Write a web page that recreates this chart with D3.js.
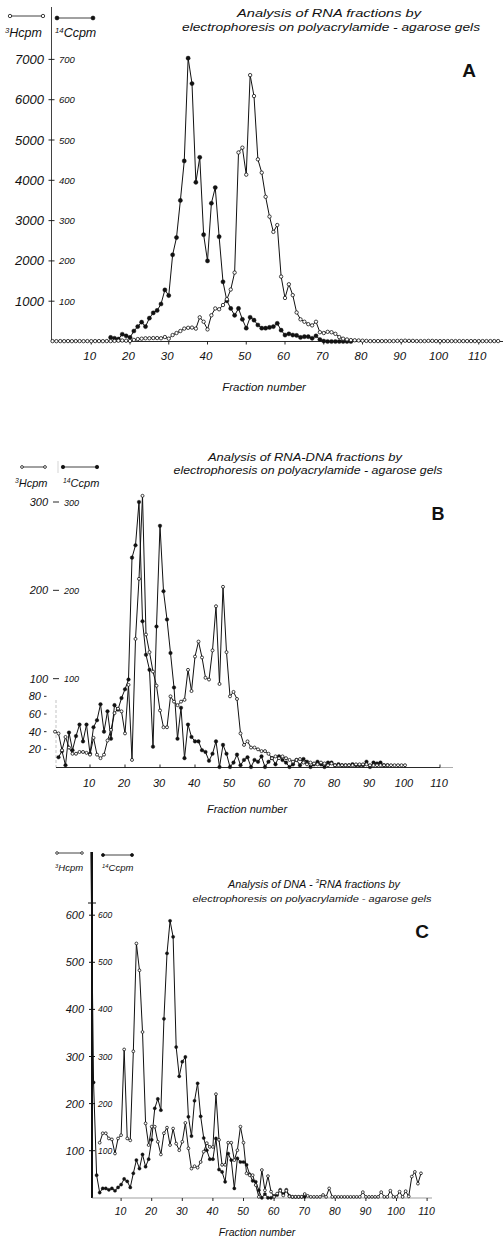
<!DOCTYPE html>
<html>
<head>
<meta charset="utf-8">
<script src="https://cdn.jsdelivr.net/npm/d3@7"></script>
<style>
  body { margin: 0; background: #fff; }
  svg { display: block; }
  text { font-family: "Liberation Sans", Arial, sans-serif; fill: #111; }
</style>
</head>
<body>
<svg id="fig" width="503" height="1238"></svg>
<script>
// ---------- shared ----------
const fractionTicks = [10, 20, 30, 40, 50, 60, 70, 80, 90, 100, 110];

// ---------- Panel A: RNA fractions ----------
const aH3Start = 0;   // 3H cpm, fractions 0..115
const aH3 = [
  10, 8, 10, 8, 10, 8, 10, 10, 8, 10, 8, 10, 10, 8, 10,
  10, 15, 20, 25, 20, 15,
  40, 60, 70, 80, 80, 85, 85, 80, 110, 70,
  160, 210, 260, 320, 340, 345, 320, 600, 490, 300,
  650, 820, 800, 905, 1050, 1290, 1710, 4690, 4810, 4140,
  6610, 6090, 4520, 4190, 3590, 3100, 2720, 2890, 1610, 1080,
  1420, 1150, 720, 550, 490, 430, 400, 490, 230, 210,
  240, 230, 190, 110, 70, 50, 35, 30, 25, 20,
  15, 10, 10, 10, 10, 10, 10, 10, 15, 15,
  20, 15, 15, 10, 10, 10, 15, 15, 10, 10,
  10, 10, 10, 10, 10, 10, 10, 10, 10, 10,
  10, 10, 10, 10, 10
];
const aC14Start = 15; // 14C cpm, fractions 15..77
const aC14 = [
  10, 8, 6, 18, 14, 10,
  26, 37, 48, 37, 58, 71, 77, 93, 128, 114,
  215, 258, 350, 448, 703, 640, 395, 457, 265, 200,
  343, 382, 260, 148, 101, 82, 65, 82, 55, 33,
  60, 53, 41, 33, 33, 35, 37, 45, 28, 16,
  19, 16, 15, 10, 12, 12, 8, 14, 5, 1,
  0, 0, 0, 0, 0, 0, 0
];
const aTicksH3 = [1000, 2000, 3000, 4000, 5000, 6000, 7000];
const aTicksC14 = [100, 200, 300, 400, 500, 600, 700];

// ---------- Panel B: RNA-DNA fractions ----------
const bH3Start = 0;   // fractions 0..100
const bH3 = [
  40, 38, 19, 34, 22, 15, 15, 17, 17, 16, 14,
  33, 14, 10, 14, 30, 42, 61, 66, 63, 38,
  93, 8, 145, 213, 307, 150, 130, 108, 92, 64,
  45, 45, 80, 74, 70, 74, 76, 110, 86, 125,
  142, 124, 101, 99, 132, 182, 94, 204, 130, 80,
  85, 77, 38, 25, 29, 22, 22, 20, 18, 18,
  15, 10, 12, 10, 12, 10, 8, 6, 8, 9,
  5, 3, 5, 4, 3, 5, 4, 2, 4, 2,
  2, 2, 2, 2, 2, 3, 3, 3, 3, 2,
  2, 2, 2, 2, 2, 2, 2, 2, 2, 2
];
const bC14Start = 1;  // fractions 1..95
const bC14 = [
  11, 18, 2, 39, 19, 35, 48, 29, 48, 15,
  45, 53, 71, 40, 63, 32, 70, 65, 78, 88,
  99, 237, 251, 300, 165, 127, 110, 23, 159, 273,
  199, 167, 129, 90, 32, 67, 10, 48, 34, 29,
  29, 19, 17, 7, 15, 29, 0, 25, 15, 0,
  5, 14, 2, 8, 11, 0, 8, 6, 12, 0,
  6, 10, 3, 12, 8, 5, 0, 3, 8, 2,
  9, 6, 0, 3, 6, 3, 0, 5, 5, 2,
  3, 2, 2, 2, 3, 2, 2, 2, 6, 0,
  5, 4, 5, 2, 2
];
const bTicksLeft = [20, 40, 60, 80, 100, 200, 300];
const bTicksRight = [100, 200, 300];

// ---------- Panel C: DNA-RNA fractions ----------
const cH3Start = 3;   // fractions 3..108
const cH3 = [
  117, 137, 137, 126, 124, 94, 126, 133,
  315, 126, 122, 311, 540, 483, 352, 158, 112, 151,
  151, 119, 92, 137, 149, 112, 147, 115, 101, 119,
  159, 105, 62, 67, 64, 76, 98, 116, 108, 108,
  220, 123, 70, 70, 117, 117, 80, 101, 151, 117,
  52, 48, 48, 27, 2, 59, 16, 46, 13, 2,
  9, 15, 5, 15, 3, 2, 2, 2, 2, 8,
  4, 2, 2, 2, 2, 6, 2, 20, 2, 2,
  2, 2, 2, 2, 2, 2, 2, 2, 12, 2,
  2, 2, 2, 2, 12, 2, 2, 15, 2, 2,
  13, 2, 14, 3, 45, 55, 30, 52
];
const cC14Start = 0;  // fractions 0..70 (fraction 0 runs off the top)
const cC14 = [
  800, 245, 48, 11, 20, 20, 17, 20, 15, 22, 28,
  40, 35, 22, 52, 80, 62, 92, 66, 82, 123,
  190, 210, 186, 380, 519, 588, 554, 320, 258, 289,
  299, 172, 131, 206, 243, 173, 127, 101, 82, 82,
  126, 60, 55, 34, 94, 80, 20, 84, 76, 76,
  70, 50, 36, 34, 16, 0, 8, 0, 0, 4,
  6, 17, 8, 17, 4, 2, 2, 2, 2, 2
];
const cTicks = [100, 200, 300, 400, 500, 600];

// ---------- drawing helpers ----------
const svg = d3.select("#fig");
svg.append("rect").attr("width", 503).attr("height", 1238).attr("fill", "#fff");
const INK = "#111";

const toPoints = (start, values) => values.map((v, i) => ({ f: start + i, v }));

function drawCurve(g, pts, x, y) {
  g.append("path").datum(pts)
    .attr("d", d3.line().x(d => x(d.f)).y(d => y(d.v)))
    .attr("fill", "none").attr("stroke", INK).attr("stroke-width", 1)
    .attr("stroke-linejoin", "round");
}
function drawDots(g, pts, x, y, filled, r) {
  g.selectAll(null).data(pts).join("circle")
    .attr("cx", d => x(d.f)).attr("cy", d => y(d.v)).attr("r", r)
    .attr("fill", filled ? INK : "#fff")
    .attr("stroke", INK).attr("stroke-width", filled ? 0.4 : 0.8);
}
function seg(g, x1, y1, x2, y2, w = 0.9, color = INK) {
  return g.append("line").attr("x1", x1).attr("y1", y1).attr("x2", x2).attr("y2", y2)
    .attr("stroke", color).attr("stroke-width", w);
}
function label(g, str, x, y, size, anchor = "start", italic = true) {
  return g.append("text").attr("x", x).attr("y", y).attr("font-size", size)
    .attr("text-anchor", anchor).attr("font-style", italic ? "italic" : "normal").text(str);
}
function fitted(g, str, cx, y, size, width) {
  return g.append("text").attr("x", cx - width / 2).attr("y", y).attr("font-size", size)
    .attr("font-style", "italic").attr("textLength", width).attr("lengthAdjust", "spacingAndGlyphs")
    .text(str);
}
function legendKey(g, x1, x2, y, filled, r) {
  seg(g, x1, y, x2, y, 0.8);
  [x1, x2].forEach(xx => g.append("circle").attr("cx", xx).attr("cy", y).attr("r", r)
    .attr("fill", filled ? INK : "#fff").attr("stroke", INK).attr("stroke-width", 0.8));
}
function isotopeLabel(g, mass, rest, x, y, size) {
  const t = g.append("text").attr("x", x).attr("y", y).attr("font-size", size).attr("font-style", "italic");
  t.append("tspan").attr("font-size", size * 0.62).attr("dy", -size * 0.35).text(mass);
  t.append("tspan").attr("dy", size * 0.35).text(rest);
  return t;
}

// ---------- Panel A ----------
{
  const g = svg.append("g");
  const x = d3.scaleLinear([0, 110], [52.5, 478.75]);
  const yH = d3.scaleLinear([0, 7000], [341.5, 59.4]);
  const yC = d3.scaleLinear([0, 700], [341.5, 59.4]);

  seg(g, 51.5, 7, 51.5, 341.5, 0.8);
  seg(g, 51.5, 341.5, 503, 341.5, 0.9);
  fractionTicks.forEach(t => {
    seg(g, x(t), 341.5, x(t), 344.5, 0.9);
    label(g, String(t), x(t) - 1.5, 360, 11.5, "middle");
  });
  aTicksH3.forEach(t => {
    seg(g, 48.5, yH(t), 54.5, yH(t), 0.9);
    label(g, String(t), 44, yH(t) + 4.5, 13, "end");
  });
  aTicksC14.forEach(t => label(g, String(t), 59, yC(t) + 3.5, 9.5, "start"));

  legendKey(g, 10, 43, 16, false, 1.7);
  legendKey(g, 57, 93, 18, true, 1.9);
  isotopeLabel(g, "3", "Hcpm", 5, 37, 12.5);
  isotopeLabel(g, "14", "Ccpm", 55, 37, 12.5);

  fitted(g, "Analysis of RNA fractions by", 329, 17, 11.5, 184);
  fitted(g, "electrophoresis on polyacrylamide - agarose gels", 331, 31, 11.5, 298);
  g.append("text").attr("x", 469).attr("y", 77).attr("font-size", 19).attr("font-weight", "bold")
    .attr("text-anchor", "middle").text("A");
  label(g, "Fraction number", 264, 391, 11.5, "middle");

  const h3 = toPoints(aH3Start, aH3), c14 = toPoints(aC14Start, aC14);
  drawCurve(g, c14, x, yC);
  drawCurve(g, h3, x, yH);
  drawDots(g, c14, x, yC, true, 2.1);
  drawDots(g, h3, x, yH, false, 1.7);
}

// ---------- Panel B ----------
{
  const g = svg.append("g");
  const x = d3.scaleLinear([0, 110], [55, 440]);
  const yH = d3.scaleLinear([0, 300], [767, 502]);
  const yC = d3.scaleLinear([0, 300], [767, 502]);

  seg(g, 56, 700, 56, 767.5, 0.7, "#aaa").attr("stroke-dasharray", "3,2");
  seg(g, 56, 767.5, 453, 767.5, 0.9);
  seg(g, 440, 767.5, 453, 767.5, 0.9, "#bbb");
  fractionTicks.forEach(t => {
    seg(g, x(t), 764.5, x(t), 767.5, 0.9);
    label(g, String(t), x(t) - 1, 787, 11, "middle");
  });
  bTicksLeft.forEach(t => {
    if (t >= 100) {
      seg(g, 53, yH(t), 59, yH(t), 0.9);
      label(g, String(t), 48, yH(t) + 4, 11, "end");
    } else {
      seg(g, 44, yH(t), 46.5, yH(t), 0.9);
      label(g, String(t), 41, yH(t) + 4, 11, "end");
    }
  });
  bTicksRight.forEach(t => label(g, String(t), 64, yC(t) + 3.5, 9, "start"));

  legendKey(g, 22, 45, 467, false, 1.4);
  legendKey(g, 63, 97, 467, true, 1.7);
  seg(g, 58, 461, 58, 473, 0.6, "#bbb");
  isotopeLabel(g, "3", "Hcpm", 15, 487, 11);
  isotopeLabel(g, "14", "Ccpm", 63, 487, 11);

  fitted(g, "Analysis of RNA-DNA fractions by", 305, 461, 10.5, 194);
  fitted(g, "electrophoresis on polyacrylamide - agarose gels", 308, 474, 10.5, 269);
  g.append("text").attr("x", 438).attr("y", 520).attr("font-size", 18).attr("font-weight", "bold")
    .attr("text-anchor", "middle").text("B");
  label(g, "Fraction number", 247, 813, 11, "middle");

  const h3 = toPoints(bH3Start, bH3), c14 = toPoints(bC14Start, bC14);
  drawCurve(g, c14, x, yC);
  drawCurve(g, h3, x, yH);
  drawDots(g, c14, x, yC, true, 1.8);
  drawDots(g, h3, x, yH, false, 1.5);
}

// ---------- Panel C ----------
{
  const g = svg.append("g");
  const x = d3.scaleLinear([0, 110], [90.5, 427.1]);
  const yH = d3.scaleLinear([0, 600], [1197.8, 915.2]);
  const yC = d3.scaleLinear([0, 600], [1197.8, 915.2]);

  svg.append("clipPath").attr("id", "clipC")
    .append("rect").attr("x", 0).attr("y", 852).attr("width", 503).attr("height", 400);

  seg(g, 92, 852, 92, 1198, 2);
  seg(g, 88, 903, 96, 903, 1);
  seg(g, 92, 1198, 432, 1198, 0.7, "#777");
  fractionTicks.forEach(t => {
    seg(g, x(t), 1198, x(t), 1201, 0.9);
    label(g, String(t), x(t) - 0.5, 1215, 10.5, "middle");
  });
  cTicks.forEach(t => {
    seg(g, 89, yH(t), 95, yH(t), 1);
    label(g, String(t), 84, yH(t) + 4, 11, "end");
    label(g, String(t), 98, yC(t) + 3, 8.5, "start");
  });

  legendKey(g, 57, 82, 853, false, 1.3);
  legendKey(g, 103, 132, 855, true, 1.5);
  isotopeLabel(g, "3", "Hcpm", 55, 871, 9.5);
  isotopeLabel(g, "14", "Ccpm", 102, 871, 9.5);

  // first title line: the labelled RNA carries a small superscript "3"
  const t1 = g.append("text").attr("x", 314 - 86).attr("y", 888).attr("font-size", 10)
    .attr("font-style", "italic").attr("textLength", 172).attr("lengthAdjust", "spacingAndGlyphs");
  t1.append("tspan").text("Analysis of DNA - ");
  t1.append("tspan").attr("font-size", 6).attr("dy", -5).text("3");
  t1.append("tspan").attr("dy", 5).text("RNA fractions by");
  fitted(g, "electrophoresis on polyacrylamide - agarose gels", 312, 902, 9.5, 239);
  g.append("text").attr("x", 422).attr("y", 938).attr("font-size", 19).attr("font-weight", "bold")
    .attr("text-anchor", "middle").text("C");
  label(g, "Fraction number", 257, 1236, 10.5, "middle");

  const plot = g.append("g").attr("clip-path", "url(#clipC)");
  const h3 = toPoints(cH3Start, cH3), c14 = toPoints(cC14Start, cC14);
  drawCurve(plot, c14, x, yC);
  drawCurve(plot, h3, x, yH);
  drawDots(plot, c14, x, yC, true, 1.6);
  drawDots(plot, h3, x, yH, false, 1.4);
}
</script>
</body>
</html>
